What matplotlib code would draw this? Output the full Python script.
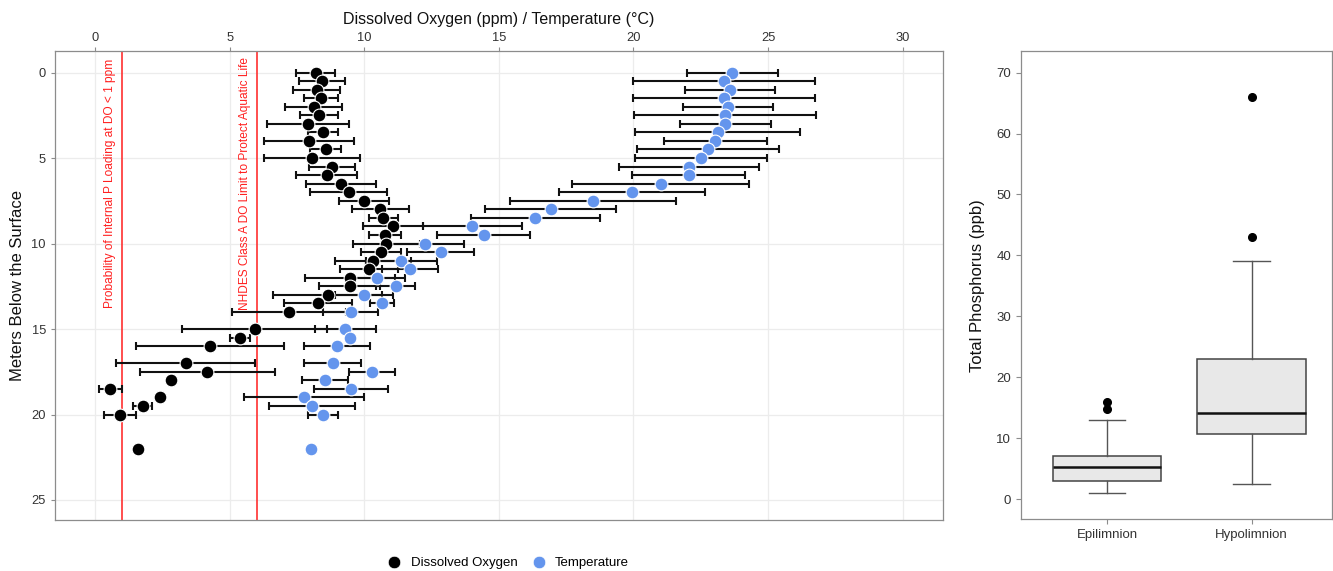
import numpy as np
import matplotlib
matplotlib.use("Agg")
import matplotlib.pyplot as plt
from matplotlib.lines import Line2D

plt.rcParams['font.family'] = ['Liberation Sans', 'DejaVu Sans']

# ---------------- data ----------------
depth = [0, 0.5, 1, 1.5, 2, 2.5, 3, 3.5, 4, 4.5, 5, 5.5, 6, 6.5, 7, 7.5, 8, 8.5, 9, 9.5,
         10, 10.5, 11, 11.5, 12, 12.5, 13, 13.5, 14, 15, 15.5, 16, 17, 17.5, 18, 18.5,
         19, 19.5, 20, 22]

do_mean = [8.20, 8.42, 8.23, 8.40, 8.12, 8.32, 7.91, 8.48, 7.95, 8.56, 8.06, 8.80, 8.61,
           9.13, 9.43, 9.98, 10.60, 10.71, 11.08, 10.77, 10.82, 10.61, 10.32, 10.19, 9.46,
           9.46, 8.64, 8.28, 7.19, 5.93, 5.38, 4.27, 3.37, 4.17, 2.81, 0.57, 2.40, 1.77,
           0.92, 1.61]
do_sd = [0.72, 0.85, 0.87, 0.63, 1.05, 0.69, 1.54, 0.56, 1.68, 0.59, 1.77, 0.86, 1.13,
         1.31, 1.43, 0.93, 1.05, 0.54, 1.12, 0.61, 1.25, 0.74, 1.42, 1.08, 1.68, 1.13,
         2.02, 1.26, 2.12, 2.69, 0.38, 2.74, 2.58, 2.50, np.nan, 0.42, np.nan, 0.35,
         0.59, np.nan]

temp_mean = [23.68, 23.37, 23.59, 23.37, 23.51, 23.40, 23.42, 23.13, 23.04, 22.78, 22.52,
             22.05, 22.05, 21.01, 19.94, 18.49, 16.92, 16.36, 14.02, 14.43, 12.26, 12.84,
             11.38, 11.69, 10.46, 11.17, 9.99, 10.65, 9.49, 9.30, 9.47, 8.98, 8.83, 10.30,
             8.54, 9.51, 7.77, 8.06, 8.46, 8.01]
temp_sd = [1.69, 3.38, 1.67, 3.38, 1.67, 3.39, 1.68, 3.07, 1.92, 2.64, 2.45, 2.60, 2.10,
           3.28, 2.72, 3.08, 2.44, 2.38, 1.83, 1.72, 1.46, 1.25, 1.33, 1.04, 1.06, 0.73,
           1.06, 0.44, 1.02, 1.13, np.nan, 1.22, 1.06, 0.86, 0.85, 1.36, 2.22, 1.59,
           0.55, np.nan]

ref_lines = [1, 6]
ref_texts = ["Probability of Internal P Loading at DO < 1 ppm",
             "NHDES Class A DO Limit to Protect Aquatic Life"]
ref_text_x = [0.54, 5.57]
ref_text_y = 6.5

box_labels = ["Epilimnion", "Hypolimnion"]
box_q1 = [3.0, 10.7]
box_median = [5.25, 14.2]
box_q3 = [7.0, 23.0]
box_whislo = [1.0, 2.5]
box_whishi = [13.0, 39.0]
box_fliers = [[14.7, 16.0], [43.0, 66.0]]

# ---------------- figure ----------------
W, H = 1333, 571
fig = plt.figure(figsize=(W / 100, H / 100), dpi=100)

def frac(l, t, r, b):
    return [l / W, 1 - b / H, (r - l) / W, (b - t) / H]

ax = fig.add_axes(frac(55, 51, 942.7, 520))
ax2 = fig.add_axes(frac(1020.7, 51, 1332, 519.3))

spine_c = '#8c8c8c'
tick_c = '#333333'
grid_c = '#ececec'

# ---- left panel ----
ax.set_xlim(-1.49, 31.49)
ax.set_ylim(26.17, -1.26)
ax.set_xticks(np.arange(0, 31, 5))
ax.set_yticks(np.arange(0, 26, 5))
ax.grid(True, color=grid_c, lw=0.9, zorder=0)
ax.set_axisbelow(True)
ax.xaxis.tick_top()
ax.xaxis.set_label_position('top')
ax.tick_params(axis='both', colors=spine_c, labelcolor=tick_c, labelsize=9.3,
               length=3, width=0.8)
ax.tick_params(axis='x', pad=2)
for s in ax.spines.values():
    s.set_color(spine_c)
    s.set_linewidth(0.9)

ax.set_xlabel("Dissolved Oxygen (ppm) / Temperature (°C)", fontsize=11.5, labelpad=6,
              color='#111111')
ax.set_ylabel("Meters Below the Surface", fontsize=12, labelpad=5, color='#111111')

for xv in ref_lines:
    ax.axvline(xv, color='#ff3030', lw=1.2, zorder=1)
for tx, txt in zip(ref_text_x, ref_texts):
    ax.text(tx, ref_text_y, txt, rotation=90, color='#ff2020', fontsize=8.6,
            ha='center', va='center', zorder=2)

err_kw = dict(fmt='none', ecolor='#111111', elinewidth=1.5, capsize=3.2,
              capthick=1.5, zorder=3)
ax.errorbar(do_mean, depth, xerr=do_sd, **err_kw)
ax.errorbar(temp_mean, depth, xerr=temp_sd, **err_kw)
ax.plot(do_mean, depth, 'o', color='black', mec='white', mew=0.8, ms=9.2, zorder=4)
ax.plot(temp_mean, depth, 'o', color='#6495ED', mec='white', mew=0.8, ms=9.2, zorder=5)

handles = [Line2D([], [], marker='o', ls='', color='black', ms=9, mec='white', mew=0.5),
           Line2D([], [], marker='o', ls='', color='#6495ED', ms=9, mec='white', mew=0.5)]
fig.legend(handles, ["Dissolved Oxygen", "Temperature"], loc='center',
           bbox_to_anchor=(505 / W, 1 - 563 / H), ncol=2, frameon=False,
           fontsize=9.5, handletextpad=0.25, columnspacing=0.6)

# ---- right panel ----
stats = []
for i in range(len(box_labels)):
    stats.append(dict(label=box_labels[i], q1=box_q1[i], med=box_median[i], q3=box_q3[i],
                      whislo=box_whislo[i], whishi=box_whishi[i], fliers=box_fliers[i]))
ax2.bxp(stats, positions=[1, 2], widths=0.75, capwidths=0.25, patch_artist=True,
        boxprops=dict(facecolor='#e8e8e8', edgecolor='#444444', linewidth=1.1),
        medianprops=dict(color='#111111', linewidth=1.8),
        whiskerprops=dict(color='#555555', linewidth=1.0),
        capprops=dict(color='#555555', linewidth=1.0),
        flierprops=dict(marker='o', markerfacecolor='black', markeredgecolor='black',
                        markersize=5.5))
ax2.set_xlim(0.4, 2.558)
ax2.set_ylim(-3.33, 73.56)
ax2.set_yticks(np.arange(0, 71, 10))
ax2.tick_params(axis='both', colors=spine_c, labelcolor=tick_c, labelsize=9.5,
                length=3.5, width=0.8)
for s in ax2.spines.values():
    s.set_color(spine_c)
    s.set_linewidth(0.9)
ax2.set_ylabel("Total Phosphorus (ppb)", fontsize=12, labelpad=8, color='#111111')

fig.savefig("out.png", dpi=100)
